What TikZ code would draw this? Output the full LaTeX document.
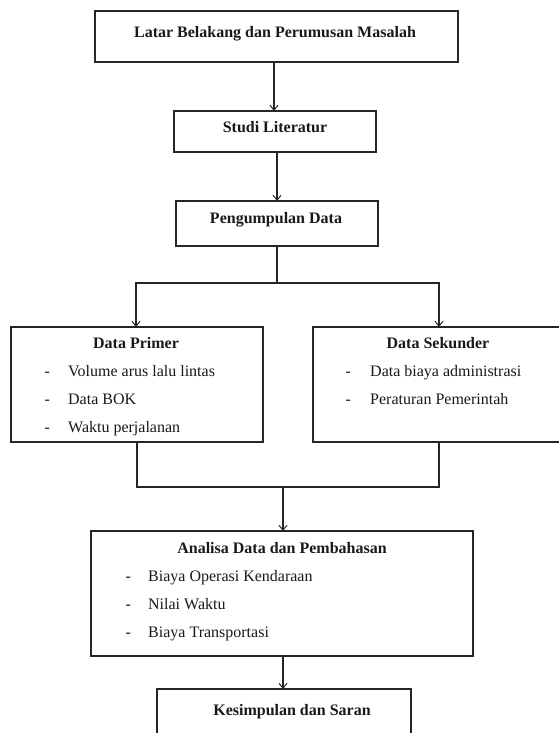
\documentclass[tikz,border=0pt]{standalone}
\usepackage{fontspec}
\setmainfont{Liberation Serif}
\usetikzlibrary{arrows.meta}
\begin{document}
\begin{tikzpicture}[x=1pt,y=-1pt,
  box/.style={draw=black!85, line width=1.1pt, inner sep=0pt, outer sep=0pt, anchor=north west},
  ttl/.style={font=\fontsize{16}{19}\selectfont\bfseries, anchor=base, inner sep=0pt, text=black!90},
  itm/.style={font=\fontsize{16}{19}\selectfont, anchor=base west, inner sep=0pt, text=black!90},
  conn/.style={draw=black!85, line width=1.1pt},
  arr/.style={conn, -{Straight Barb[length=5pt,width=8pt,line width=1pt]}}]
\useasboundingbox (0,0) rectangle (559,733);
\clip (0,0) rectangle (559,733);
% boxes
\node[box, minimum width=363pt, minimum height=51pt] (b1) at (95,11) {};
\node[box, minimum width=202pt, minimum height=41pt] (b2) at (174,111) {};
\node[box, minimum width=202pt, minimum height=45pt] (b3) at (176,201) {};
\node[box, minimum width=252pt, minimum height=115pt] (pr) at (11,327) {};
\node[box, minimum width=290pt, minimum height=115pt] (sk) at (313,327) {};
\node[box, minimum width=382pt, minimum height=125pt] (an) at (91,531) {};
\node[box, minimum width=254pt, minimum height=70pt] (ks) at (157,689) {};
% texts
\node[ttl] (t1) at (275,38) {Latar Belakang dan Perumusan Masalah};
\node[ttl] (t2) at (275,132) {Studi Literatur};
\node[ttl] (t3) at (276,223) {Pengumpulan Data};
\node[ttl] (tp) at (136,348) {Data Primer};
\node[itm] (p1) at (44.5,376) {\makebox[23.5pt][l]{-}Volume arus lalu lintas};
\node[itm] (p2) at (44.5,404) {\makebox[23.5pt][l]{-}Data BOK};
\node[itm] (p3) at (44.5,432) {\makebox[23.5pt][l]{-}Waktu perjalanan};
\node[ttl] (ts) at (438,348) {Data Sekunder};
\node[itm] (s1) at (345.5,376) {\makebox[24.5pt][l]{-}Data biaya administrasi};
\node[itm] (s2) at (345.5,404) {\makebox[24.5pt][l]{-}Peraturan Pemerintah};
\node[ttl] (ta) at (282,553) {Analisa Data dan Pembahasan};
\node[itm] (a1) at (125.5,581) {\makebox[22.5pt][l]{-}Biaya Operasi Kendaraan};
\node[itm] (a2) at (125.5,609) {\makebox[22.5pt][l]{-}Nilai Waktu};
\node[itm] (a3) at (125.5,637) {\makebox[22.5pt][l]{-}Biaya Transportasi};
\node[ttl] (tk) at (292,715) {Kesimpulan dan Saran};
% connectors
\coordinate (split) at (277,283);
\coordinate (merge) at (283,487);
\draw[arr] (b1.south -| 274,0) -- (b2.north -| 274,0);
\draw[arr] (b2.south -| 277,0) -- (b3.north -| 277,0);
\draw[conn] (b3.south -| split) -- (split);
\draw[arr] (split) -| ([xshift=-1pt]pr.north);
\draw[arr] (split) -| ([xshift=126pt]sk.north west);
\draw[conn] (pr.south) |- (merge);
\draw[conn] ([xshift=126pt]sk.south west) |- (merge);
\draw[arr] (merge) -- (an.north -| merge);
\draw[arr] (an.south -| merge) -- (ks.north -| merge);
\end{tikzpicture}
\end{document}
